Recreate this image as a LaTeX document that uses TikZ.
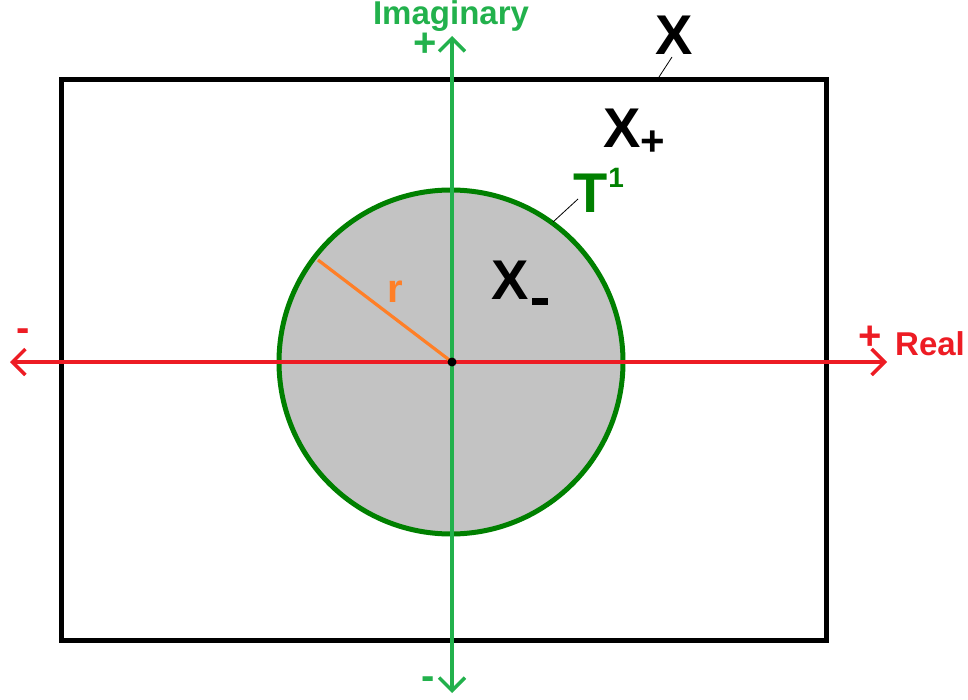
\documentclass[tikz,border=0pt]{standalone}
\usepackage{fontspec}
\setmainfont{Liberation Sans}
\usetikzlibrary{arrows.meta}
\definecolor{axred}{RGB}{237,28,36}
\definecolor{axgreen}{RGB}{34,177,76}
\definecolor{dkgreen}{RGB}{0,128,0}
\definecolor{radorange}{RGB}{255,127,39}
\definecolor{diskgray}{RGB}{195,195,195}
\tikzset{
  lbl/.style={inner sep=0pt, font=\bfseries\fontsize{33}{33}\selectfont},
  sgn/.style={inner sep=0pt, font=\bfseries\fontsize{40}{40}\selectfont},
  biglbl/.style={inner sep=0pt, font=\bfseries\fontsize{56}{56}\selectfont},
  leader/.style={draw=black, line width=0.8pt},
  barb/.style={-{Straight Barb[length=13pt,width=26pt,line width=3.5pt]}},
  axis/.style={line width=3.5pt, barb},
}
\begin{document}
\begin{tikzpicture}[x=1pt,y=-1pt]
\useasboundingbox (0,0) rectangle (968,700);
% frame
\node[draw=black, line width=5pt, minimum width=765pt, minimum height=560pt, inner sep=0pt] (frame) at (443.5,360) {};
% disk
\node[circle, draw=dkgreen, fill=diskgray, line width=5pt, minimum size=344pt, inner sep=0pt] (disk) at (451,362) {};
\coordinate (c) at (452,362);
% axes
\coordinate (rl) at (10,362);
\coordinate (rr) at (887,362);
\coordinate (it) at (452,36);
\coordinate (ib) at (452,693);
\draw[axred, axis] (c) -- (rr);
\draw[axred, axis] (c) -- (rl);
\draw[axgreen, axis] (c) -- (it);
\draw[axgreen, axis] (c) -- (ib);
% radius
\draw[radorange, line width=3.2pt] (c) -- ++(-134,-102) coordinate (rend);
\fill[black] (c) circle (4.5pt);
% labels
\node[lbl, text=axgreen, anchor=base, text height=23pt, text depth=6pt] (imag) at (451,25) {Imaginary};
\node[sgn, text=axgreen, anchor=base, text height=22pt, text depth=0pt] (iplus) at (425,57) {+};
\node[sgn, text=axgreen] (iminus) at (428,683) {-};
\node[sgn, text=axred] (rminus) at (23,335) {-};
\node[sgn, text=axred] (rplus) at (870,338) {+};
\node[lbl, text=axred, anchor=base west] (real) at (895,355) {Real};
\node[lbl, text=radorange, font=\bfseries\fontsize{40}{40}\selectfont, anchor=base] (rlab) at (395,302) {r};
\node[biglbl, anchor=base] (xlab) at (674,55) {X};
\node[biglbl, anchor=base west] (xplus) at (603,148) {X\raisebox{-8pt}{\fontsize{42}{42}\selectfont+}};
\node[biglbl, anchor=base west] (xminus) at (491,300) {X\hspace{3pt}\raisebox{-5pt}{\rule{16pt}{6.5pt}}};
\node[biglbl, text=dkgreen, anchor=base west] (tlab) at (573,213) {T\hspace{1pt}\raisebox{25pt}{\fontsize{28}{28}\selectfont 1}};
% leaders
\coordinate (xl1) at (659,77);
\coordinate (xl2) at (672,57);
\draw[leader] (xl1) -- (xl2);
\coordinate (tl1) at (553,222);
\coordinate (tl2) at (578,199);
\draw[leader] (tl1) -- (tl2);
\end{tikzpicture}
\end{document}
